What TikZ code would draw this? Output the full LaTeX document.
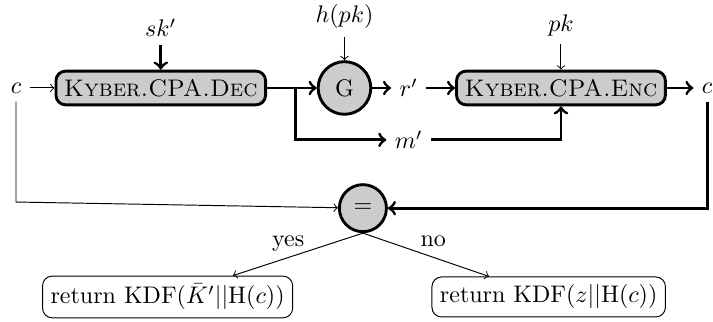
\documentclass[tikz,border=0pt]{standalone}
\usepackage{amsmath,amssymb}
\usepackage{tikz}
\usetikzlibrary{shapes.geometric, arrows, positioning}
\tikzstyle{algo} = [rectangle, rounded corners, very thick, align=center, draw=black, fill=gray!40]
\tikzstyle{func} = [circle, very thick, inner sep=4pt, draw=black, fill=gray!40]
\tikzstyle{result} = [rectangle, rounded corners, align=center, draw=black]
\tikzstyle{arrowthick} = [very thick,->,>=to]
\tikzstyle{arrowthin} = [thin,->,>=to]

\begin{document}
\begin{tikzpicture}

            \useasboundingbox (-0.234,1.288) rectangle ++(10.44,-4.714);

            % Place nodes
            \node (cin) {$c$};
            \node (dec) [algo, right of=cin, node distance=2.12cm] {\textsc{Kyber.CPA.Dec}};
            \node (skp) [above of=dec, node distance=0.88cm] {$sk'$};
            \node (G) [func, right of=dec, node distance=2.69cm] {G};
            \node (hpk) [above of=G, node distance=1.04cm] {$h(pk)$};
            \node (rp) [right of=G, node distance=0.94cm] {$r'$};
            \node (enc) [algo, right of=rp, node distance=2.23cm] {\textsc{Kyber.CPA.Enc}};
            \node (pk) [above of=enc, node distance=0.92cm] {$pk$};
            \node (cout) [right of=enc, node distance=2.14cm] {$c$};
            \node (mp) [below of=rp, node distance=0.76cm] {$m'$};
            \node (eq) [func, below of=G, node distance=1.76cm, xshift=0.27cm] {$=$};
            \node (yes) [result, below of=eq, node distance=1.30cm, xshift=-2.86cm] {return KDF$(\bar{K}'||\mathrm{H}(c))$};
            \node (no) [result, below of=eq, node distance=1.30cm, xshift=2.72cm] {return KDF$(z||\mathrm{H}(c))$};
            \coordinate (split) at ([xshift=0.42cm]dec.east);
            \coordinate (bend) at ([yshift=-1.67cm]cin.center);

            % Draw edges
            \draw [arrowthin] (cin) -- (dec);
            \draw [arrowthick] (skp) -- (dec);
            \draw [arrowthick] (dec) -- (G);
            \draw [arrowthin] (hpk) -- (G);
            \draw [arrowthick] (G) -- (rp);
            \draw [arrowthick] (rp) -- (enc);
            \draw [arrowthin] (pk) -- (enc);
            \draw [arrowthick] (enc) -- (cout);
            \draw [arrowthick] (split) |- (mp);
            \draw [arrowthick] (mp) -| (enc);
            \draw [arrowthick] (cout) |- (eq);
            \draw [arrowthin] (cin) -- (bend) -- (eq);
            \draw [arrowthin] (eq.south) -- node[above, xshift=-4pt, yshift=-2.5pt] {yes} (yes);
            \draw [arrowthin] (eq.south) -- node[above, xshift=3pt] {no} (no);
        \end{tikzpicture}
\end{document}
